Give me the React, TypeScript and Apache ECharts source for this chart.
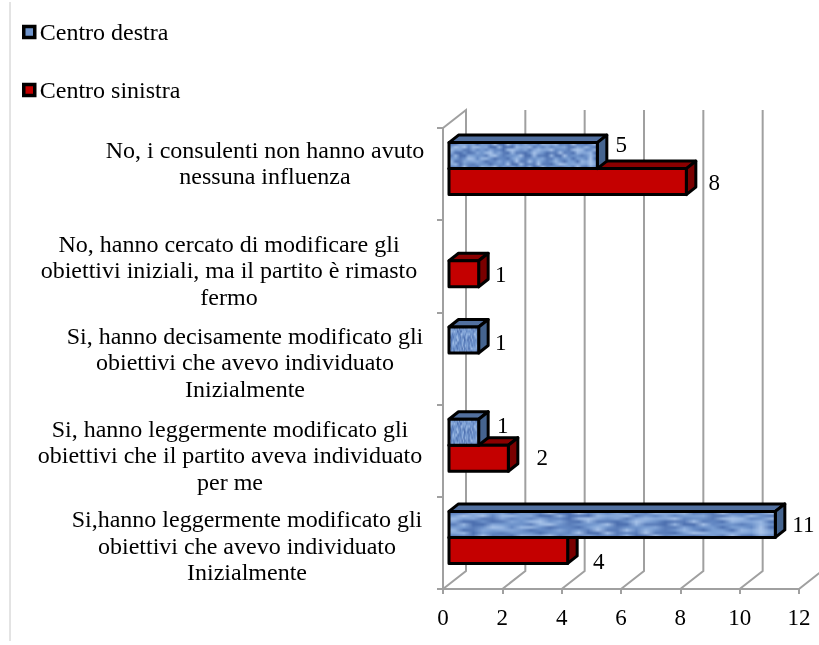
import React, { useEffect, useRef } from "react";
import * as echarts from "echarts";

const categories = [
  "Si,hanno leggermente modificato gli\nobiettivi che avevo individuato\nInizialmente",
  "Si, hanno leggermente modificato gli\nobiettivi che il partito aveva individuato\nper me",
  "Si, hanno decisamente modificato gli\nobiettivi che avevo individuato\nInizialmente",
  "No, hanno cercato di modificare gli\nobiettivi iniziali, ma il partito è rimasto\nfermo",
  "No, i consulenti non hanno avuto\nnessuna influenza",
];
const seriesNames = ["Centro destra", "Centro sinistra"];
const destra: (number | null)[] = [11, 1, 1, null, 5];
const sinistra: (number | null)[] = [4, 2, null, 1, 8];
const xTicks = [0, 2, 4, 6, 8, 10, 12];

// hand-placed label nudges (dx from the bar end, dy from the bar centre)
const destraLabelNudge = [[28, 0], [24, -7], [22, 2], [0, 0], [24, -11]];
const sinistraLabelNudge = [[31, 11], [34, -1], [0, 0], [22, 1], [28, 1]];
const categoryLabelX = [247, 230, 245, 229, 265];
const categoryLabelDy = [3, 4.5, 3.5, 4, -11];

const FONT = '"Liberation Serif", "Times New Roman", serif';
const TEXT_COLOR = "#000";
const GRID_COLOR = "#a0a0a0";
const DEPTH = [23, -18];
const BAR_DEPTH = [9.5, -7.5];
const PLANE = [6, -5.5];
const SLOT = 26;

const blueTones = ["#5a7dba", "#6f94cc", "#86a8da", "#6388c4", "#9ab9e4", "#4d70b0", "#7a9fd4", "#a9c4ea"];
const tile = (() => {
  const c = document.createElement("canvas");
  c.width = 34;
  c.height = 9;
  const g = c.getContext("2d")!;
  for (let y = 0; y < c.height; y++) {
    for (let x = 0; x < c.width; x++) {
      g.fillStyle = blueTones[(x * 7 + y * 13 + (x * y) % 5 + ((x * x + y) % 11)) % blueTones.length];
      g.fillRect(x, y, 1, 1);
    }
  }
  return c;
})();
const textureCache: Record<string, HTMLCanvasElement> = {};
function texture(w: number, h: number) {
  const key = `${Math.round(w)}x${Math.round(h)}`;
  if (!textureCache[key]) {
    const c = document.createElement("canvas");
    c.width = Math.max(1, Math.round(w));
    c.height = Math.max(1, Math.round(h));
    const g = c.getContext("2d")!;
    g.imageSmoothingEnabled = true;
    g.drawImage(tile, 0, 0, c.width, c.height);
    textureCache[key] = c;
  }
  return textureCache[key];
}

function barRenderer(kind: "blue" | "red", nudges: number[][]) {
  return (_p: any, api: any) => {
    const value = api.value(0);
    const cat = api.value(1);
    const zero = api.coord([0, cat]);
    const end = api.coord([value, cat]);
    const x0 = zero[0] + PLANE[0];
    const x1 = end[0] + PLANE[0];
    const mid = zero[1] + PLANE[1];
    const y0 = kind === "blue" ? mid - SLOT : mid;
    const y1 = y0 + SLOT;
    const [dx, dy] = BAR_DEPTH;
    const line = { stroke: "#000", lineWidth: 3, lineJoin: "round" };
    const top = kind === "blue" ? "#52709f" : "#8a0000";
    const side = kind === "blue" ? "#45648f" : "#7a0000";
    const children: any[] = [
      {
        type: "polygon",
        shape: { points: [[x0, y0], [x0 + dx, y0 + dy], [x1 + dx, y0 + dy], [x1, y0]] },
        style: { fill: top, ...line },
      },
      {
        type: "polygon",
        shape: { points: [[x1, y0], [x1 + dx, y0 + dy], [x1 + dx, y1 + dy], [x1, y1]] },
        style: { fill: side, ...line },
      },
    ];
    if (kind === "blue") {
      children.push({
        type: "image",
        style: { image: texture(x1 - x0, SLOT), x: x0, y: y0, width: x1 - x0, height: SLOT },
      });
    }
    children.push({
      type: "rect",
      shape: { x: x0, y: y0, width: x1 - x0, height: SLOT },
      style: { fill: kind === "blue" ? "transparent" : "#c40000", ...line },
    });
    const nudge = nudges[cat];
    children.push({
      type: "text",
      style: {
        text: String(value),
        x: x1 + nudge[0],
        y: (y0 + y1) / 2 + nudge[1],
        fontFamily: FONT,
        fontSize: 23,
        fill: TEXT_COLOR,
        align: "center",
        verticalAlign: "middle",
      },
    });
    return { type: "group", children };
  };
}

function toPoints(values: (number | null)[]) {
  return values.flatMap((v, i) => (v == null ? [] : [[v, i]]));
}

export default function App() {
  const ref = useRef<HTMLDivElement>(null);
  useEffect(() => {
    document.body.style.margin = "0";
    document.body.style.background = "#fff";
    const chart = echarts.init(ref.current!, undefined, { renderer: "svg" });
    const legendIcon = (color: string) => ({ color, borderColor: "#000", borderWidth: 3.5 });
    chart.setOption({
      animation: false,
      backgroundColor: "#fff",
      grid: { left: 443, top: 128, width: 356, height: 461, containLabel: false },
      legend: {
        orient: "vertical",
        left: 22,
        top: 20,
        padding: 0,
        itemGap: 34,
        itemWidth: 11,
        itemHeight: 11,
        data: [
          { name: seriesNames[0], icon: "rect", itemStyle: legendIcon("#6f94cc") },
          { name: seriesNames[1], icon: "rect", itemStyle: legendIcon("#c40000") },
        ],
        textStyle: { fontFamily: FONT, fontSize: 24, color: TEXT_COLOR },
      },
      xAxis: {
        type: "value",
        min: 0,
        max: 12,
        interval: 2,
        splitLine: { show: false },
        axisLine: { show: true, lineStyle: { color: GRID_COLOR, width: 2 } },
        axisTick: { show: true, length: 5, lineStyle: { color: GRID_COLOR, width: 2 } },
        axisLabel: { fontFamily: FONT, fontSize: 23, color: TEXT_COLOR, margin: 17 },
      },
      yAxis: {
        type: "category",
        data: categories,
        axisLine: { show: true, lineStyle: { color: GRID_COLOR, width: 2 } },
        axisTick: { show: true, length: 6, lineStyle: { color: GRID_COLOR, width: 2 } },
        axisLabel: { show: false },
      },
      graphic: [
        {
          type: "line",
          shape: { x1: 10, y1: 2, x2: 10, y2: 641 },
          style: { stroke: "#c8c8c8", lineWidth: 1 },
        },
      ],
      series: [
        {
          type: "custom",
          name: "wall",
          silent: true,
          clip: false,
          z: 1,
          data: xTicks.map((t) => [t]),
          encode: { x: 0 },
          renderItem: (_p: any, api: any) => {
            const t = api.value(0);
            const bottom = api.coord([t, 0]);
            const topC = api.coord([t, categories.length - 1]);
            const band = api.size([0, 1])[1];
            const yB = bottom[1] + band / 2;
            const yT = topC[1] - band / 2;
            const x = bottom[0];
            const st = { stroke: GRID_COLOR, lineWidth: 2, fill: "none" };
            const points = [[x, yB], [x + DEPTH[0], yB + DEPTH[1]], [x + DEPTH[0], yT + DEPTH[1]]];
            if (t === 0) points.push([x, yT]);
            return { type: "polyline", shape: { points }, style: st };
          },
        },
        {
          type: "custom",
          name: "categoryLabels",
          silent: true,
          clip: false,
          z: 3,
          data: categories.map((_c, i) => [0, i]),
          encode: { x: 0, y: 1 },
          renderItem: (_p: any, api: any) => {
            const i = api.value(1);
            const c = api.coord([0, i]);
            return {
              type: "text",
              style: {
                text: categories[i],
                x: categoryLabelX[i],
                y: c[1] + categoryLabelDy[i],
                fontFamily: FONT,
                fontSize: 24,
                lineHeight: 26.5,
                fill: TEXT_COLOR,
                align: "center",
                verticalAlign: "middle",
              },
            };
          },
        },
        {
          type: "custom",
          name: seriesNames[1],
          clip: false,
          z: 4,
          itemStyle: { color: "#c40000" },
          data: toPoints(sinistra),
          encode: { x: 0, y: 1 },
          renderItem: barRenderer("red", sinistraLabelNudge),
        },
        {
          type: "custom",
          name: seriesNames[0],
          clip: false,
          z: 5,
          itemStyle: { color: "#6f94cc" },
          data: toPoints(destra),
          encode: { x: 0, y: 1 },
          renderItem: barRenderer("blue", destraLabelNudge),
        },
      ],
    });
    return () => chart.dispose();
  }, []);
  return (
    <div
      ref={ref}
      style={{ position: "absolute", left: 0, top: 0, width: 819, height: 645, filter: "blur(0.4px)" }}
    />
  );
}
